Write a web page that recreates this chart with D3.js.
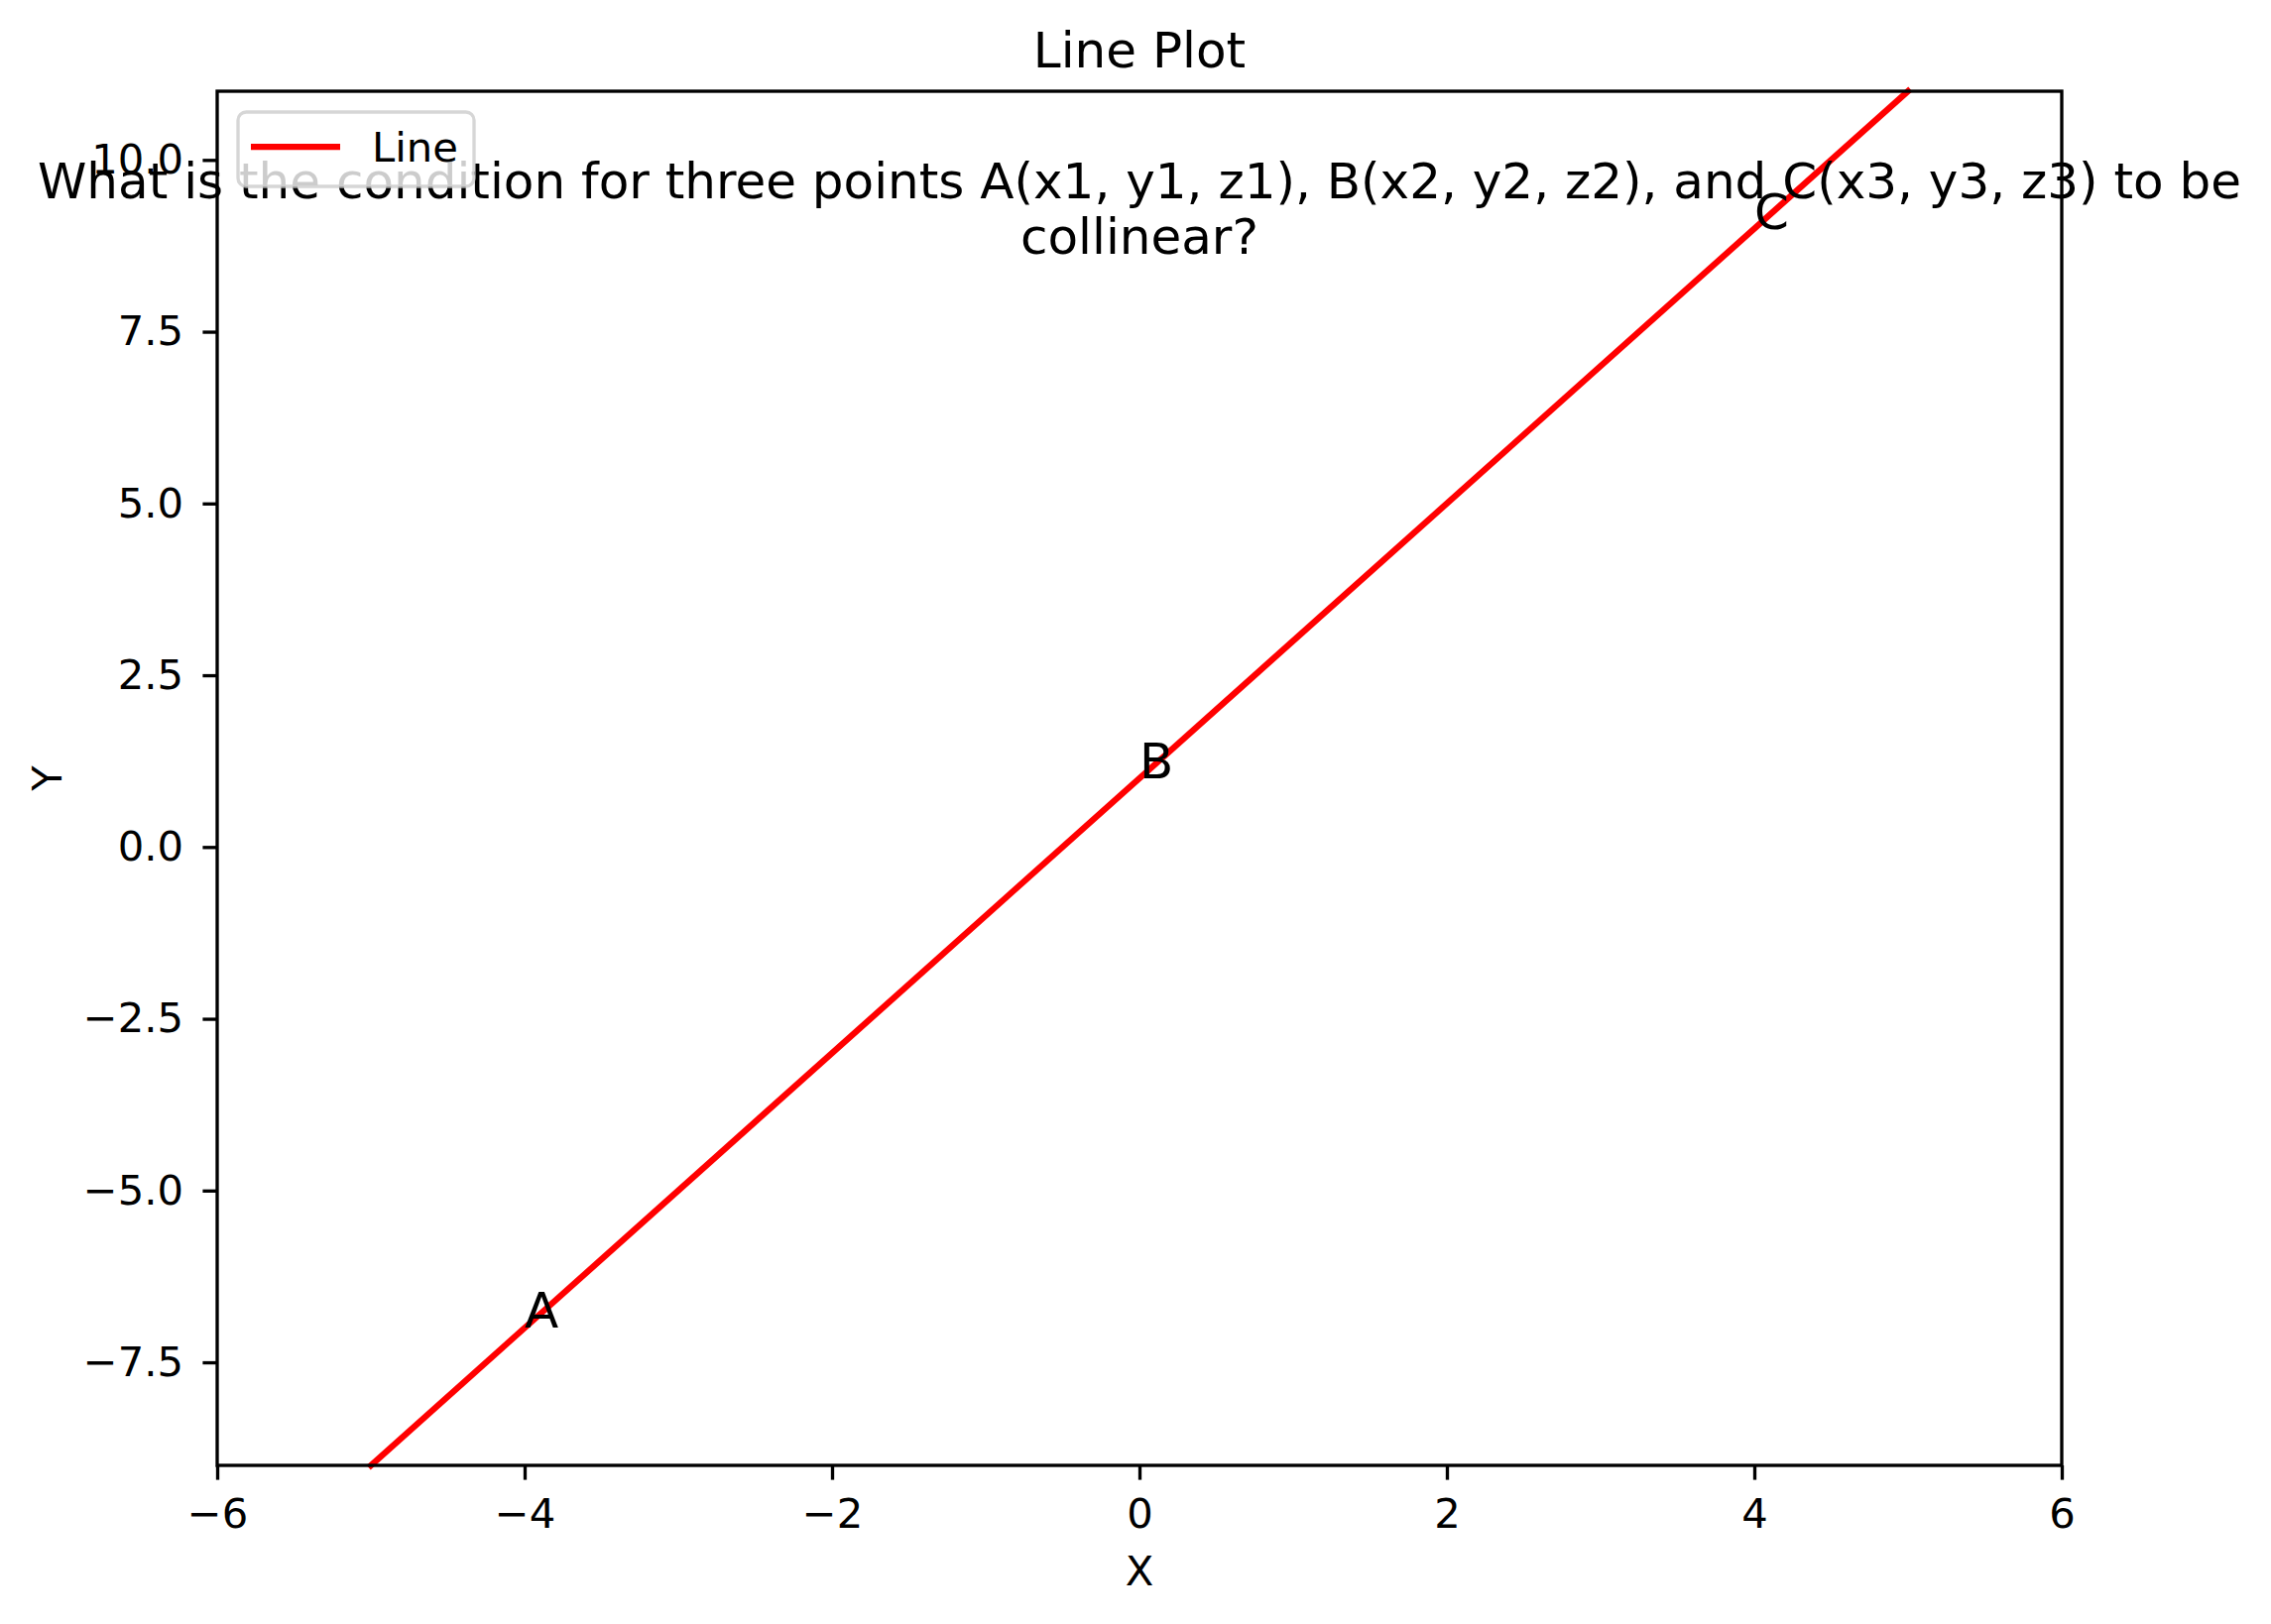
<!DOCTYPE html>
<html>
<head>
<meta charset="utf-8">
<script src="https://cdn.jsdelivr.net/npm/d3@7"></script>
<style>
  html, body { margin: 0; padding: 0; background: #fff; }
  svg { display: block; font-family: "DejaVu Sans", sans-serif; }
</style>
</head>
<body>
<script>
// ---- data ----
const lineX = [-5, 5];
const lineY = [-9, 11];
const pointLabels = ["A", "B", "C"];
const pointX = [-4, 0, 4];
const pointY = [-7, 1, 9];
const xTicks = [-6, -4, -2, 0, 2, 4, 6];
const yTicks = [-7.5, -5.0, -2.5, 0.0, 2.5, 5.0, 7.5, 10.0];
const xDomain = [-6, 6];
const yDomain = [-9, 11];
const titleText = "Line Plot";
const questionLines = [
  "What is the condition for three points A(x1, y1, z1), B(x2, y2, z2), and C(x3, y3, z3) to be",
  "collinear?"
];
const xLabel = "X";
const yLabel = "Y";
const legendLabel = "Line";

// ---- layout ----
const W = 2290, H = 1638;
const L = 219, R = 2079, T = 92, B = 1478;
const tickFont = 41.7, bigFont = 50;
const spineW = 3.33, tickLen = 14.6;

const svg = d3.select("body").append("svg").attr("width", W).attr("height", H);
svg.append("rect").attr("width", W).attr("height", H).attr("fill", "#fff");

const x = d3.scaleLinear().domain(xDomain).range([L, R]);
const y = d3.scaleLinear().domain(yDomain).range([B, T]);

const fmtMinus = s => s.replace("-", "\u2212");

// x axis
const gx = svg.append("g").attr("transform", `translate(0,${B})`)
  .call(d3.axisBottom(x).tickValues(xTicks).tickSize(tickLen).tickSizeOuter(0).tickPadding(18.5)
    .tickFormat(d => fmtMinus(d3.format("d")(d))));
// y axis
const gy = svg.append("g").attr("transform", `translate(${L},0)`)
  .call(d3.axisLeft(y).tickValues(yTicks).tickSize(tickLen).tickSizeOuter(0).tickPadding(19.4)
    .tickFormat(d => fmtMinus(d3.format(".1f")(d))));
[gx, gy].forEach(g => {
  g.select(".domain").remove();
  g.selectAll(".tick line").attr("stroke", "#000").attr("stroke-width", spineW);
  g.selectAll(".tick text").attr("fill", "#000").style("font-size", tickFont + "px")
    .style("font-family", "'DejaVu Sans', sans-serif");
});

// line
const lineData = lineX.map((v, i) => [v, lineY[i]]);
svg.append("path").datum(lineData)
  .attr("d", d3.line().x(d => x(d[0])).y(d => y(d[1])))
  .attr("fill", "none").attr("stroke", "#ff0000").attr("stroke-width", 6.25)
  .attr("stroke-linecap", "square");

// point labels
svg.append("g").selectAll("text").data(pointLabels).join("text")
  .attr("x", (d, i) => x(pointX[i]))
  .attr("y", (d, i) => y(pointY[i]))
  .attr("font-size", bigFont).attr("fill", "#000")
  .text(d => d);

// frame
svg.append("rect").attr("x", L).attr("y", T).attr("width", R - L).attr("height", B - T)
  .attr("fill", "none").attr("stroke", "#000").attr("stroke-width", spineW);

// question text
svg.append("g").selectAll("text").data(questionLines).join("text")
  .attr("x", (L + R) / 2)
  .attr("y", (d, i) => 200 + i * 56)
  .attr("text-anchor", "middle").attr("font-size", bigFont).attr("fill", "#000")
  .text(d => d);

// title
svg.append("text").attr("x", (L + R) / 2).attr("y", 68)
  .attr("text-anchor", "middle").attr("font-size", bigFont).attr("fill", "#000")
  .text(titleText);

// axis labels
svg.append("text").attr("x", (L + R) / 2).attr("y", 1599)
  .attr("text-anchor", "middle").attr("font-size", tickFont).attr("fill", "#000")
  .text(xLabel);
svg.append("text").attr("x", 62).attr("y", (T + B) / 2)
  .attr("transform", `rotate(-90,62,${(T + B) / 2})`)
  .attr("text-anchor", "middle").attr("font-size", tickFont).attr("fill", "#000")
  .text(yLabel);

// legend
const lg = svg.append("g");
lg.append("rect").attr("x", 240).attr("y", 113).attr("width", 238).attr("height", 75)
  .attr("rx", 8.3).attr("ry", 8.3)
  .attr("fill", "#fff").attr("fill-opacity", 0.8)
  .attr("stroke", "#cccccc").attr("stroke-opacity", 0.8).attr("stroke-width", spineW);
lg.append("line").attr("x1", 253).attr("x2", 343).attr("y1", 148).attr("y2", 148)
  .attr("stroke", "#ff0000").attr("stroke-width", 6.25);
lg.append("text").attr("x", 375).attr("y", 163)
  .attr("font-size", tickFont).attr("fill", "#000").text(legendLabel);
</script>
</body>
</html>
